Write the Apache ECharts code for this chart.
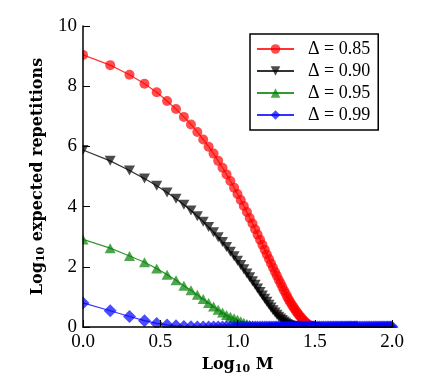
<!DOCTYPE html>
<html>
<head>
<meta charset="utf-8">
<script src="https://cdn.jsdelivr.net/npm/echarts@6/dist/echarts.min.js"></script>
<style>
html, body { margin: 0; padding: 0; background: #fff; }
#chart { width: 435px; height: 381px; }
</style>
</head>
<body>
<div id="chart"></div>
<script>
// x positions: log10 of M (M = 1 .. 32 step 0.5, then 33 .. 60 step 1, then 62 .. 100 step 2)
var logM = [
	0, 0.176, 0.301, 0.398, 0.477, 0.544, 0.602, 0.653, 0.699, 0.740, 0.778, 0.813, 0.845, 0.875, 0.903, 0.929, 0.954, 0.978, 1.000,
	1.021, 1.041, 1.061, 1.079, 1.097, 1.114, 1.130, 1.146, 1.161, 1.176, 1.190, 1.204, 1.217, 1.230, 1.243, 1.255, 1.267, 1.279, 1.290, 1.301,
	1.312, 1.322, 1.332, 1.342, 1.352, 1.362, 1.371, 1.380, 1.389, 1.398, 1.407, 1.415, 1.423, 1.431, 1.439, 1.447, 1.455, 1.462, 1.470, 1.477, 1.484, 1.491, 1.498, 1.505,
	1.519, 1.531, 1.544, 1.556, 1.568, 1.580, 1.591, 1.602, 1.613, 1.623, 1.633, 1.643, 1.653, 1.663, 1.672, 1.681, 1.690, 1.699, 1.708, 1.716, 1.724, 1.732, 1.740, 1.748, 1.756, 1.763, 1.771, 1.778,
	1.792, 1.806, 1.820, 1.833, 1.845, 1.857, 1.869, 1.881, 1.892, 1.903, 1.914, 1.924, 1.934, 1.944, 1.954, 1.964, 1.973, 1.982, 1.991, 2.000
];

var names = ['Δ = 0.85', 'Δ = 0.90', 'Δ = 0.95', 'Δ = 0.99'];

// Log10 expected repetitions, one array per Δ
var rep085 = [
	9.04, 8.70, 8.38, 8.08, 7.80, 7.51, 7.24, 6.98, 6.73, 6.48, 6.23, 5.99, 5.76, 5.52, 5.29, 5.07, 4.85, 4.63, 4.42,
	4.22, 4.02, 3.82, 3.62, 3.44, 3.25, 3.07, 2.90, 2.73, 2.57, 2.41, 2.26, 2.11, 1.97, 1.83, 1.70, 1.57, 1.45, 1.33, 1.21,
	1.11, 1.00, 0.91, 0.82, 0.74, 0.66, 0.59, 0.52, 0.46, 0.40, 0.34, 0.29, 0.24, 0.20, 0.16, 0.12, 0.09, 0.06, 0.04, 0.02, 0.01, 0, 0, 0
];
var rep090 = [
	5.88, 5.52, 5.20, 4.93, 4.69, 4.47, 4.26, 4.06, 3.87, 3.68, 3.50, 3.32, 3.15, 2.98, 2.82, 2.66, 2.50, 2.35, 2.20,
	2.06, 1.92, 1.78, 1.65, 1.52, 1.40, 1.28, 1.16, 1.05, 0.94, 0.84, 0.74, 0.65, 0.56, 0.48, 0.41, 0.34, 0.28, 0.23, 0.18,
	0.14, 0.10, 0.07, 0.05, 0.03, 0.02, 0.01, 0, 0, 0, 0, 0, 0, 0, 0, 0, 0, 0, 0, 0, 0, 0, 0, 0
];
var rep095 = [
	2.91, 2.62, 2.36, 2.15, 1.94, 1.74, 1.55, 1.37, 1.22, 1.07, 0.93, 0.80, 0.68, 0.57, 0.48, 0.40, 0.34, 0.29, 0.24,
	0.19, 0.14, 0.10, 0.07, 0.04, 0.02, 0.01, 0, 0, 0, 0, 0, 0, 0, 0, 0, 0, 0, 0, 0,
	0, 0, 0, 0, 0, 0, 0, 0, 0, 0, 0, 0, 0, 0, 0, 0, 0, 0, 0, 0, 0, 0, 0, 0
];
var rep099 = [
	0.80, 0.54, 0.35, 0.21, 0.12, 0.07, 0.04, 0.02, 0.01, 0, 0, 0, 0, 0, 0, 0, 0, 0, 0,
	0, 0, 0, 0, 0, 0, 0, 0, 0, 0, 0, 0, 0, 0, 0, 0, 0, 0, 0, 0,
	0, 0, 0, 0, 0, 0, 0, 0, 0, 0, 0, 0, 0, 0, 0, 0, 0, 0, 0, 0, 0, 0, 0, 0,
	0, 0, 0, 0, 0, 0, 0, 0, 0, 0, 0, 0, 0, 0, 0, 0, 0, 0, 0, 0, 0, 0, 0, 0, 0, 0, 0, 0,
	0, 0, 0, 0, 0, 0, 0, 0, 0, 0, 0, 0, 0, 0, 0, 0, 0, 0, 0, 0
];

var serif = 'Liberation Serif';
var titleFont = 'DejaVu Serif';
var downTriangle = 'path://M0,0 L10,0 L5,9 Z';

var makeSeries = function(name, ys, color, symbol, size) {
	return {
		name : name,
		type : 'line',
		data : ys.map(function(y, i) {
			return [ logM[i], y ];
		}),
		symbol : symbol,
		symbolSize : size,
		showAllSymbol : true,
		lineStyle : {
			color : color,
			width : 1.2,
			opacity : 0.8
		},
		itemStyle : {
			color : color,
			opacity : 0.7
		},
		emphasis : {
			disabled : true
		}
	};
};

var axisName = function(size) {
	return {
		fontFamily : titleFont,
		fontSize : size,
		fontWeight : 'bold',
		color : '#000',
		rich : {
			sub : {
				fontFamily : titleFont,
				fontSize : 11,
				fontWeight : 'bold',
				color : '#000',
				padding : [ 8, 0, 0, 0 ]
			}
		}
	};
};

var option = {
	animation : false,
	backgroundColor : '#fff',
	grid : {
		left : 83,
		right : 43,
		top : 26,
		bottom : 54
	},
	legend : {
		orient : 'vertical',
		left : 250,
		top : 34,
		data : names,
		itemWidth : 37,
		itemHeight : 12,
		itemGap : 4,
		padding : [ 6, 8, 6, 6 ],
		borderColor : '#000',
		borderWidth : 1.5,
		borderRadius : 0,
		backgroundColor : '#fff',
		selectedMode : false,
		textStyle : {
			fontFamily : serif,
			fontSize : 18,
			color : '#000',
			padding : [ 0, 0, 0, 9 ]
		}
	},
	xAxis : {
		type : 'value',
		min : 0,
		max : 2,
		interval : 0.5,
		z : 10,
		name : 'Log{sub|10} M',
		nameLocation : 'middle',
		nameGap : 22,
		nameTextStyle : axisName(16),
		axisLine : {
			onZero : false,
			lineStyle : { color : '#000', width : 1.5 }
		},
		axisTick : {
			inside : true,
			length : 7,
			lineStyle : { color : '#000', width : 1 }
		},
		axisLabel : {
			fontFamily : serif,
			fontSize : 19,
			color : '#000',
			margin : 6,
			formatter : function(v) {
				return v.toFixed(1);
			}
		},
		splitLine : { show : false }
	},
	yAxis : {
		type : 'value',
		min : 0,
		max : 10,
		interval : 2,
		z : 10,
		name : 'Log{sub|10} expected repetitions',
		nameLocation : 'middle',
		nameGap : 30,
		nameTextStyle : axisName(16),
		axisLine : {
			show : true,
			onZero : false,
			lineStyle : { color : '#000', width : 1.5 }
		},
		axisTick : {
			show : true,
			inside : true,
			length : 7,
			lineStyle : { color : '#000', width : 1 }
		},
		axisLabel : {
			fontFamily : serif,
			fontSize : 19,
			color : '#000',
			margin : 6
		},
		splitLine : { show : false }
	},
	// white masks so markers are cut at the axes, as in the original
	graphic : [ {
		type : 'rect',
		z : 5,
		shape : { x : 0, y : 328, width : 435, height : 53 },
		style : { fill : '#fff' }
	}, {
		type : 'rect',
		z : 5,
		shape : { x : 55, y : 0, width : 27.5, height : 381 },
		style : { fill : '#fff' }
	} ],
	series : [
		makeSeries(names[0], rep085, '#ff0000', 'circle', 10),
		makeSeries(names[1], rep090, '#000000', downTriangle, [ 11, 10 ]),
		makeSeries(names[2], rep095, '#008000', 'triangle', [ 11, 10 ]),
		makeSeries(names[3], rep099, '#0000ff', 'diamond', [ 13, 13 ])
	]
};

var chart = echarts.init(document.getElementById('chart'));
chart.setOption(option);
</script>
</body>
</html>
